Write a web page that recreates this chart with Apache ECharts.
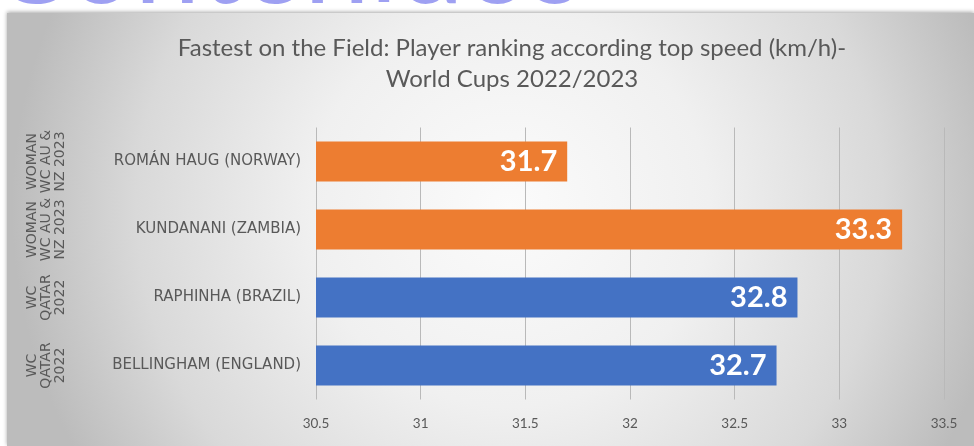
<!DOCTYPE html>
<html>
<head>
<meta charset="utf-8">
<script src="https://cdn.jsdelivr.net/npm/echarts@6/dist/echarts.min.js"></script>
<style>
  html, body { margin: 0; padding: 0; background: #ffffff; }
  #chart { width: 974px; height: 446px; }
</style>
</head>
<body>
<div id="chart"></div>
<script>
// Players listed bottom-to-top, as the category axis draws them
const players = ['BELLINGHAM (ENGLAND)', 'RAPHINHA (BRAZIL)', 'KUNDANANI (ZAMBIA)', 'ROMÁN HAUG (NORWAY)'];
const tournaments = ['WC\nQATAR\n2022', 'WC\nQATAR\n2022', 'WOMAN\nWC AU &\nNZ 2023', 'WOMAN\nWC AU &\nNZ 2023'];
const topSpeed = [32.7, 32.8, 33.3, 31.7];
const barColors = ['#4472c4', '#4472c4', '#ed7d31', '#ed7d31'];
const speedTicks = [30.5, 31, 31.5, 32, 32.5, 33, 33.5];
const titleLines = ['Fastest on the Field: Player ranking according top speed (km/h)-', 'World Cups 2022/2023'];

const FONT = 'Lato, "Open Sans", sans-serif';
const WIDE = '"DejaVu Sans", Verdana, sans-serif';
const TEXT = '#595959';

const chart = echarts.init(document.getElementById('chart'), null, { renderer: 'canvas' });

chart.setOption({
  animation: false,
  textStyle: { fontFamily: FONT },
  graphic: [
    {
      // banner lettering peeking above the panel
      type: 'text',
      z: -20,
      left: -10,
      top: -94,
      style: {
        text: 'Contenidos',
        font: '118px ' + FONT,
        fill: '#8d8ff0',
        opacity: 0.85
      },
      silent: true
    },
    {
      // shaded chart panel
      type: 'rect',
      z: -10,
      shape: { x: 7, y: 13, width: 967, height: 433 },
      style: {
        fill: {
          type: 'radial', x: 0.52, y: 0.45, r: 1.15,
          colorStops: [
            { offset: 0, color: '#fbfbfb' },
            { offset: 0.4, color: '#f0f0f0' },
            { offset: 0.75, color: '#d9d9d9' },
            { offset: 1, color: '#bcbcbc' }
          ]
        },
        shadowBlur: 4,
        shadowColor: 'rgba(0,0,0,0.35)',
        shadowOffsetY: -1
      },
      silent: true
    },
    {
      // chart heading, two centred lines
      type: 'text',
      z: 5,
      x: 512,
      y: 63.5,
      style: {
        text: titleLines.join('\n'),
        font: '24px ' + FONT,
        lineHeight: 31,
        align: 'center',
        verticalAlign: 'middle',
        fill: TEXT
      },
      silent: true
    }
  ],
  grid: { left: 316, right: 30, top: 127.5, bottom: 46.5, containLabel: false },
  xAxis: {
    type: 'value',
    min: speedTicks[0],
    max: speedTicks[speedTicks.length - 1],
    interval: 0.5,
    axisLine: { show: false },
    axisTick: { show: false },
    splitLine: { show: true, lineStyle: { color: '#b9b9b9', width: 1 } },
    axisLabel: {
      color: TEXT,
      fontSize: 13.5,
      margin: 17,
      fontFamily: FONT,
      formatter: v => String(v)
    }
  },
  yAxis: [
    {
      type: 'category',
      data: players,
      axisLine: { show: false },
      axisTick: { show: false },
      axisLabel: { color: TEXT, fontSize: 15, margin: 15, fontFamily: WIDE, interval: 0 }
    },
    {
      type: 'category',
      data: tournaments,
      position: 'left',
      offset: 249,
      axisLine: { show: false },
      axisTick: { show: false },
      axisLabel: {
        color: TEXT, fontSize: 14, lineHeight: 14, margin: 0,
        rotate: 90, interval: 0, fontFamily: WIDE
      }
    }
  ],
  series: [
    {
      type: 'bar',
      yAxisIndex: 0,
      barWidth: 40,
      data: topSpeed.map((v, i) => ({ value: v, itemStyle: { color: barColors[i] } })),
      label: {
        show: true,
        position: 'insideRight',
        distance: 10,
        color: '#ffffff',
        fontSize: 29,
        fontWeight: 'bold',
        fontFamily: FONT,
        formatter: p => p.value.toFixed(1)
      }
    }
  ]
});
</script>
</body>
</html>
